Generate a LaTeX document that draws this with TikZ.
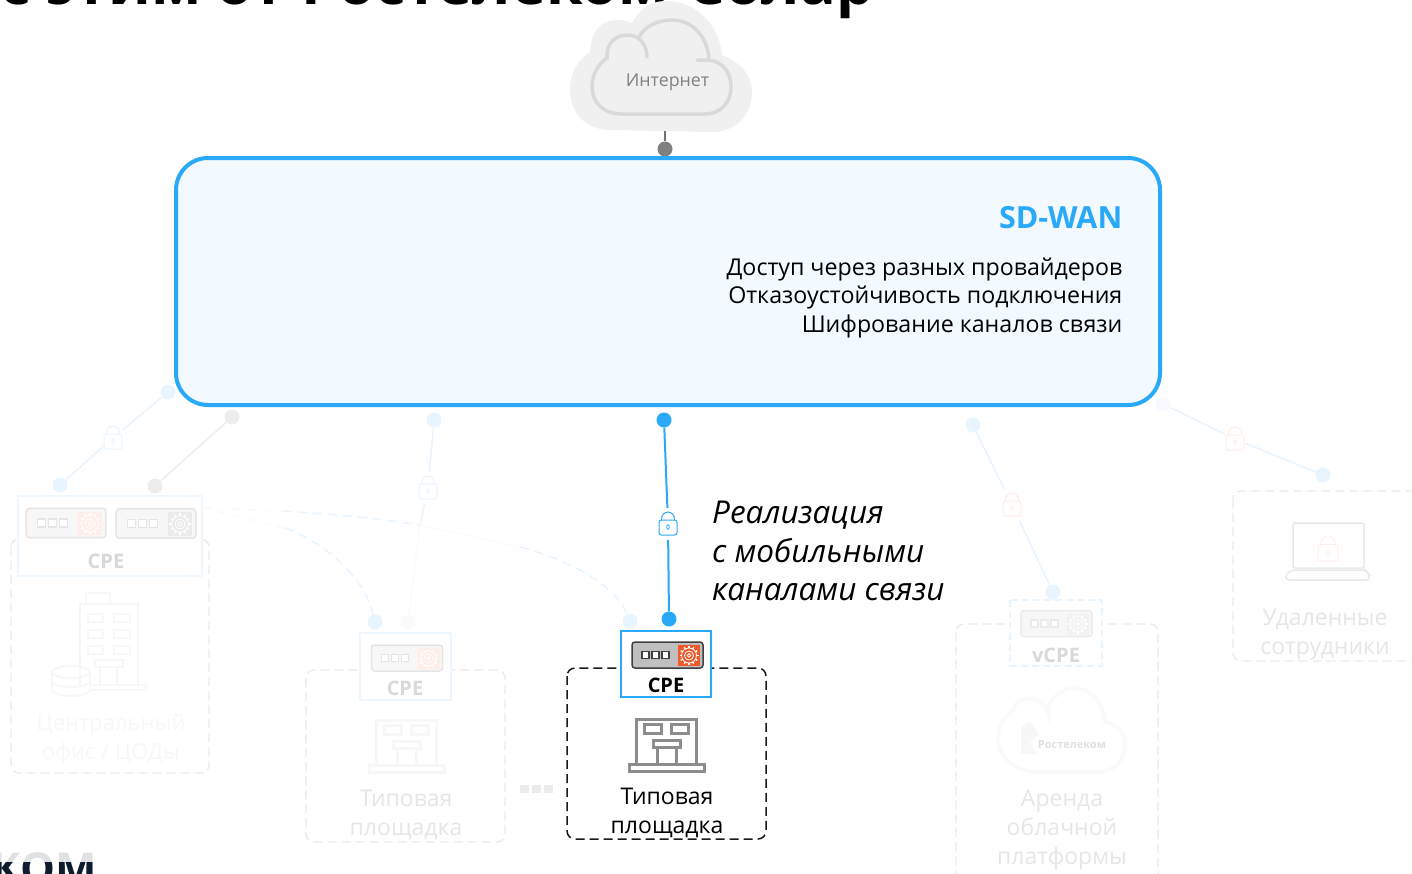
\documentclass[tikz,border=0pt]{standalone}
\usepackage{fontspec}
\setmainfont{Open Sans}
\usetikzlibrary{positioning}
\definecolor{wanblue}{HTML}{2AA9F9}
\definecolor{wanfill}{HTML}{F2F9FF}
\definecolor{paleblue}{HTML}{E8F4FE}
\definecolor{palergrey}{HTML}{F7F7F7}
\definecolor{paledash}{HTML}{E9E9E9}
\definecolor{paletext}{HTML}{E6E6E6}
\definecolor{paleorange}{HTML}{FFEDE7}
\definecolor{gearorange}{HTML}{F0592A}
\definecolor{logonavy}{HTML}{0F1C2E}
\tikzset{
	dotnode/.style={circle, inner sep=0pt, minimum size=15pt, fill=#1},
	locknode/.style={inner sep=0pt, minimum width=20pt, minimum height=32pt},
	sitebox/.style={draw=#1, line width=1.3pt, dash pattern=on 9pt off 5pt, rounded corners=8pt},
	cpebox/.style={draw=#1, line width=2pt, fill=white},
	title/.style={font=\fontsize{#1}{#1}\selectfont\bfseries},
	sitetext/.style={align=center, text=#1, font=\fontsize{23}{29}\selectfont},
	cpetext/.style={text=#1, font=\fontsize{20}{20}\selectfont\bfseries},
	pics/lockicon/.style={code={
		\draw[draw=#1, line width=1pt, rounded corners=2.5pt, fill=white] (-9,-4) rectangle (9,11);
		\draw[draw=#1, line width=1pt] (-6.5,-4) -- (-6.5,-5) arc[start angle=180, end angle=0, x radius=6.5, y radius=-7] -- (6.5,-4);
		\draw[draw=#1, line width=.8pt] (0,3) ellipse (1.3 and 2.3);
	}},
	pics/cpedevice/.style n args={3}{code={
		\draw[draw=#2, fill=#1, line width=1.5pt, rounded corners=3pt] (-35.5,-13) rectangle (35.5,13);
		\fill[#3] (10.5,-10) rectangle (32.5,11);
		\draw[draw=#2, fill=white, line width=1.2pt] (-25.5,-3.5) rectangle (-18.5,3.5);
		\draw[draw=#2, fill=white, line width=1.2pt] (-15.5,-3.5) rectangle (-8.5,3.5);
		\draw[draw=#2, fill=white, line width=1.2pt] (-5.5,-3.5) rectangle (1.5,3.5);
		\begin{scope}[shift={(21.5,.5)}, draw=white, line width=.8pt]
			\draw (0,0) circle (7.5);
			\draw (0,0) circle (4.5);
			\draw (0,0) circle (1.8);
			\foreach \a in {0,30,...,330} \draw[line width=1.4pt] (\a:7.5) -- (\a:9.5);
		\end{scope}
	}},
	pics/shopicon/.style={code={
		\begin{scope}[draw=#1, line width=3pt]
			\draw (-30,20) -- (-30,-26) -- (30,-26) -- (30,20);
			\draw (-37,19) rectangle (38,26);
			\draw (-22,-21) rectangle (-5,-12);
			\draw (5,-21) rectangle (22,-12);
			\draw (-13,-5) rectangle (14,2);
			\draw (-9,2) -- (-9,19);
			\draw (10,2) -- (10,19);
		\end{scope}
	}}
}

\begin{document}
\begin{tikzpicture}[x=1pt, y=-1pt]
	\path[use as bounding box, clip] (0,0) rectangle (1412,873);

	\node[title=59.3, anchor=base west, inner sep=0pt] (heading) at (0,4) {с этим от Ростелеком-Солар};
	\node[anchor=base east, inner sep=0pt, text=logonavy, font=\fontsize{44}{44}\selectfont\bfseries] (logo) at (97,884) {КОМ};
	\fill[white, opacity=.87] (0,845) rectangle (110,862);

	\fill[black!6] (610,130) .. controls (585,130) and (570,112) .. (570,90) .. controls (570,72) and (578,60) .. (590,52) .. controls (591,32) and (600,20) .. (617,20) .. controls (622,20) and (627,21) .. (632,23) .. controls (640,8) and (652,1) .. (665,1) .. controls (697,1) and (719,25) .. (722,55) .. controls (740,62) and (752,75) .. (752,92) .. controls (752,116) and (735,132) .. (712,132) -- cycle;
	\draw[draw=black!15, line width=3.5pt, line cap=round] (697,60) -- (708,60) .. controls (722,61) and (731,72) .. (731,87) .. controls (731,103) and (720,114) .. (705,114) -- (622,114) .. controls (604,114) and (592,103) .. (592,87) .. controls (592,75) and (598,64) .. (607,58) .. controls (606,44) and (615,35) .. (627,35) .. controls (639,35) and (647,44) .. (647,57);
	\draw[draw=black!15, line width=3.5pt, line cap=round] (639,37) .. controls (645,26) and (658,20) .. (672,20) .. controls (693,20) and (707,37) .. (709,58);
	\node[text=black!50, font=\fontsize{17.8}{18}\selectfont] (inet) at (667.5,82) {Интернет};
	\node[dotnode=black!50] (inetdot) at (665,149) {};
	\coordinate (inetfoot) at (665,131);
	\draw[draw=black!55, line width=1.2pt] (inetfoot) -- (inetdot);

	\node[dotnode=paleblue] (a) at (168,392) {};
	\node[dotnode=paleblue] (b) at (60,485) {};
	\node[locknode] (alock) at (113,438) {};
	\node[dotnode=black!7] (c) at (232,417) {};
	\node[dotnode=black!7] (d) at (155,486) {};
	\node[dotnode=paleblue] (e) at (434,420) {};
	\node[locknode] (elock) at (428,488) {};
	\coordinate (ejoin) at (420,525);
	\coordinate (efan) at (203,508);
	\coordinate (fanhigh) at (283,511);
	\coordinate (fanlow) at (285,528);
	\coordinate (eright) at (520,547);
	\node[dotnode=paleblue] (f) at (375,622) {};
	\node[dotnode=black!2] (g) at (408,622) {};
	\node[dotnode=paleblue] (h) at (630,621) {};
	\node[dotnode=paleblue] (k) at (973,425) {};
	\node[locknode] (klock) at (1012,505) {};
	\node[dotnode=paleblue] (l) at (1053,592) {};
	\node[dotnode=paleblue!35!white] (m) at (1163,404) {};
	\node[locknode] (mlock) at (1235,439) {};
	\node[dotnode=paleblue] (n) at (1323,475) {};

	\draw[draw=paleblue, line width=1.5pt] (a) -- (alock);
	\draw[draw=paleblue, line width=1.5pt] (alock) -- (b);
	\draw[draw=black!7, line width=1.5pt] (c) -- (d);
	\draw[draw=paleblue, line width=1.5pt] (e) -- (elock);
	\draw[draw=paleblue, line width=1.5pt] (elock) -- (ejoin);
	\draw[draw=black!2, line width=1.5pt] (ejoin) -- (g);
	\draw[draw=black!2, line width=1.5pt] (ejoin) -- (eright);
	\draw[draw=black!2, line width=1.5pt, dash pattern=on 9pt off 6pt] (efan) -- (fanhigh);
	\draw[draw=black!2, line width=1.5pt, dash pattern=on 9pt off 6pt] (efan) -- (fanlow);
	\draw[draw=paleblue, line width=1.5pt, dash pattern=on 9pt off 6pt] (fanhigh) .. controls (330,514) and (375,518) .. (ejoin);
	\draw[draw=paleblue, line width=1.5pt, dash pattern=on 9pt off 6pt] (fanlow) .. controls (330,545) and (365,580) .. (f);
	\draw[draw=paleblue, line width=1.5pt, dash pattern=on 9pt off 6pt] (eright) .. controls (570,560) and (615,585) .. (h);
	\draw[draw=paleblue, line width=1.5pt] (k) -- (klock);
	\draw[draw=paleblue, line width=1.5pt] (klock) -- (l);
	\draw[draw=paleblue, line width=1.5pt] (m) -- (mlock);
	\draw[draw=paleblue, line width=1.5pt] (mlock) -- (n);
	\pic at (alock) {lockicon=paleblue};
	\pic at (elock) {lockicon=paleblue};
	\pic at (klock) {lockicon=paleorange};
	\pic at (mlock) {lockicon=paleorange};
	\fill[paleorange] (k) circle (1.5);
	\fill[paleorange] (l) circle (1.5);
	\fill[paleorange] (n) circle (1.5);

	\node[draw=wanblue, fill=wanfill, line width=4pt, rounded corners=32pt, minimum width=984pt, minimum height=247pt, inner sep=0pt] (wan) at (668,281.5) {};
	\node[anchor=east, inner sep=0pt, text=wanblue, font=\fontsize{30.5}{30}\selectfont\bfseries] (wantitle) at (1122.5,218) {SD-WAN};
	\node[below=28pt of wantitle.south east, anchor=north east, inner sep=0pt, align=right, font=\fontsize{23.2}{28.5}\selectfont] (wantext) {Доступ через разных провайдеров\\Отказоустойчивость подключения\\Шифрование каналов связи};

	\node[dotnode=wanblue] (top) at (664,420) {};
	\node[locknode] (toplock) at (668,524) {};
	\node[dotnode=wanblue] (bottom) at (669,619) {};
	\draw[draw=wanblue, line width=2pt] (top) -- (toplock);
	\draw[draw=wanblue, line width=2pt] (toplock) -- (bottom);
	\pic at (toplock) {lockicon=wanblue};
	\node[anchor=north west, inner sep=0pt, align=left, font=\fontsize{31.5}{38.5}\selectfont\itshape] (note) at (712,501) {Реализация\\с мобильными\\каналами связи};

	\draw[sitebox=paledash] (11,539) rectangle (209,773);
	\draw[cpebox=paleblue!70!white] (18,496) rectangle (202,576);
	\pic[scale=1.12] at (66,523) {cpedevice={palergrey}{black!10}{paleorange}};
	\pic[scale=1.12] at (156,523.5) {cpedevice={palergrey}{black!10}{black!8}};
	\node[cpetext=black!15] (cpea) at (106,561) {CPE};
	\begin{scope}[draw=palergrey, line width=2pt]
		\draw (80,685) -- (80,604) -- (138,604) -- (138,685);
		\draw (86,604) rectangle (110,593);
		\draw (88,614) rectangle (103,622);
		\draw (114,614) rectangle (130,622);
		\draw (88,630) rectangle (103,638);
		\draw (114,630) rectangle (130,638);
		\draw (88,646) rectangle (103,654);
		\draw (114,646) rectangle (130,654);
		\draw (95,660) rectangle (123,667);
		\draw (100,667) -- (100,684);
		\draw (117,667) -- (117,684);
		\draw (90,685) rectangle (146,690);
		\draw (71,672) ellipse (19 and 6);
		\draw (52,672) -- (52,690);
		\draw (90,672) -- (90,690);
		\draw (52,681) arc[start angle=180, end angle=360, x radius=19, y radius=-6];
		\draw (52,690) arc[start angle=180, end angle=360, x radius=19, y radius=-6];
	\end{scope}
	\node[sitetext=palergrey, font=\fontsize{22}{29}\selectfont] (cpealabel) at (111,739) {Центральный\\офис / ЦОДы};

	\draw[sitebox=paledash] (306,670) rectangle (505,842);
	\draw[cpebox=paleblue!70!white] (360,633) rectangle (451,700);
	\pic at (407,658) {cpedevice={palergrey}{black!10}{paleorange}};
	\node[cpetext=black!15] (cpeb) at (405,688) {CPE};
	\pic at (406,746) {shopicon=palergrey};
	\node[sitetext=paletext] (cpeblabel) at (406,815) {Типовая\\площадка};

	\fill[black!8] (520,785) rectangle (529,793);
	\fill[black!8] (532,785) rectangle (541,793);
	\fill[black!8] (544,785) rectangle (553,793);

	\draw[draw=black!90, line width=1.5pt, dash pattern=on 9pt off 5pt, rounded corners=8pt] (567,668) rectangle (766,839);
	\draw[cpebox=wanblue] (621,631) rectangle (711,697);
	\pic at (667.5,655) {cpedevice={black!25}{black!75}{gearorange}};
	\node[cpetext=black] (cpec) at (666,685) {CPE};
	\pic at (666,745) {shopicon=black!45};
	\node[sitetext=black] (cpeclabel) at (667,812.5) {Типовая\\площадка};

	\draw[sitebox=paledash] (956,624) rectangle (1158,890);
	\draw[draw=paleblue, fill=white, line width=2pt, dash pattern=on 7pt off 4pt] (1010,600) rectangle (1102,666);
	\pic at (1056.5,623.5) {cpedevice={palergrey}{black!8}{black!5}};
	\node[cpetext=black!15] (vcpe) at (1056,655) {vCPE};
	\draw[draw=palergrey!60!white, line width=4pt, line cap=round] (1038,772) .. controls (1015,772) and (998,757) .. (998,738) .. controls (998,725) and (1006,715) .. (1013,711) .. controls (1015,700) and (1023,699) .. (1031,699) .. controls (1038,699) and (1046,705) .. (1048,714) -- (1048,705) .. controls (1056,694) and (1065,688) .. (1073,688) .. controls (1090,688) and (1102,700) .. (1105,722) .. controls (1118,724) and (1125,732) .. (1125,744) .. controls (1125,760) and (1115,772) .. (1095,772) -- cycle;
	\fill[palergrey] (1021,735) -- (1021,726) -- (1030,722) -- (1039,734) -- (1030,743) -- (1037,754) -- (1021,754) -- cycle;
	\node[text=black!12, font=\fontsize{11}{11}\selectfont\bfseries] (rtklogo) at (1072,745) {Ростелеком};
	\node[sitetext=paletext] (vcpelabel) at (1062,830.5) {Аренда\\облачной\\платформы};

	\draw[sitebox=paledash] (1233,491) rectangle (1450,661);
	\draw[draw=paledash, line width=1.5pt, rounded corners=2pt] (1293,523) rectangle (1364,568);
	\draw[draw=paledash, line width=1.5pt, rounded corners=3pt] (1286,580) -- (1286,574) -- (1292,570) -- (1365,570) -- (1369,574) -- (1369,580) -- cycle;
	\pic[scale=1.1] at (1328,549) {lockicon=paleorange};
	\node[sitetext=paletext] (remotelabel) at (1325,635) {Удаленные\\сотрудники};
\end{tikzpicture}
\end{document}
